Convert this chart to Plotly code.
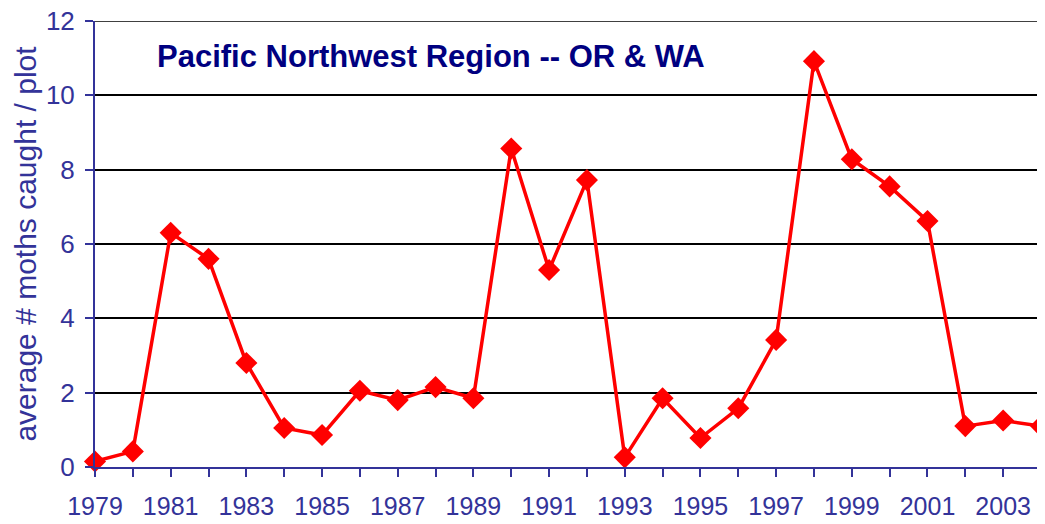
import plotly.graph_objects as go

years = list(range(1979, 2005))
moths = [0.15, 0.42, 6.3, 5.6, 2.8, 1.05, 0.86, 2.05, 1.8, 2.15, 1.85, 8.57, 5.3, 7.72,
         0.26, 1.85, 0.78, 1.58, 3.42, 10.92, 8.28, 7.55, 6.62, 1.1, 1.25, 1.1]
y_ticks = [0, 2, 4, 6, 8, 10, 12]
x_tick_labels = [str(y) if (y - 1979) % 2 == 0 else "" for y in years]

title_text = "Pacific Northwest Region -- OR & WA"
y_title = "average # moths caught / plot"

navy = "#000080"
axis_blue = "#333399"

fig = go.Figure()
fig.add_trace(go.Scatter(
    x=years, y=moths, mode="lines+markers",
    line=dict(color="#ff0000", width=3.5),
    marker=dict(symbol="diamond", size=17, color="#ff0000"),
    cliponaxis=False, showlegend=False,
))

# page body has an 8px margin, so the figure is sized/offset to compensate
fig.update_layout(
    width=1037, height=516,
    margin=dict(l=87, r=4, t=13, b=57),
    paper_bgcolor="white", plot_bgcolor="white",
    font=dict(family="Liberation Sans, Arial, sans-serif", color=axis_blue),
    xaxis=dict(
        range=[1979, 2004], tickmode="array", tickvals=years, ticktext=x_tick_labels,
        showgrid=False, zeroline=False, automargin=False,
        showline=True, linecolor=axis_blue, linewidth=2,
        ticks="outside", ticklen=8, tickwidth=2, tickcolor=axis_blue,
        tickfont=dict(size=25, color=axis_blue),
        ticklabelstandoff=8, ticklabeloverflow="allow",
    ),
    yaxis=dict(
        range=[0, 12.0001], tickmode="array", tickvals=y_ticks,
        showgrid=True, gridcolor="#000000", gridwidth=1.5, zeroline=False,
        automargin=False,
        showline=True, linecolor=axis_blue, linewidth=2,
        ticks="outside", ticklen=8, tickwidth=2, tickcolor=axis_blue,
        tickfont=dict(size=26, color=axis_blue),
        ticklabelstandoff=5, ticklabeloverflow="allow",
        title=dict(text=y_title, font=dict(size=30, color=axis_blue), standoff=0),
    ),
)

# top gridline (plotly suppresses grid lines at the plot edge)
fig.add_shape(type="line", xref="paper", yref="y", x0=0, x1=1,
              y0=y_ticks[-1], y1=y_ticks[-1], layer="below",
              line=dict(color="#000000", width=1.5))

fig.add_annotation(
    text="<b>" + title_text + "</b>",
    xref="paper", yref="y", x=0.0634, y=11.05,
    xanchor="left", yanchor="middle", showarrow=False,
    font=dict(family="Liberation Sans, Arial, sans-serif", size=31, color=navy),
)

fig.write_html("out.html")
